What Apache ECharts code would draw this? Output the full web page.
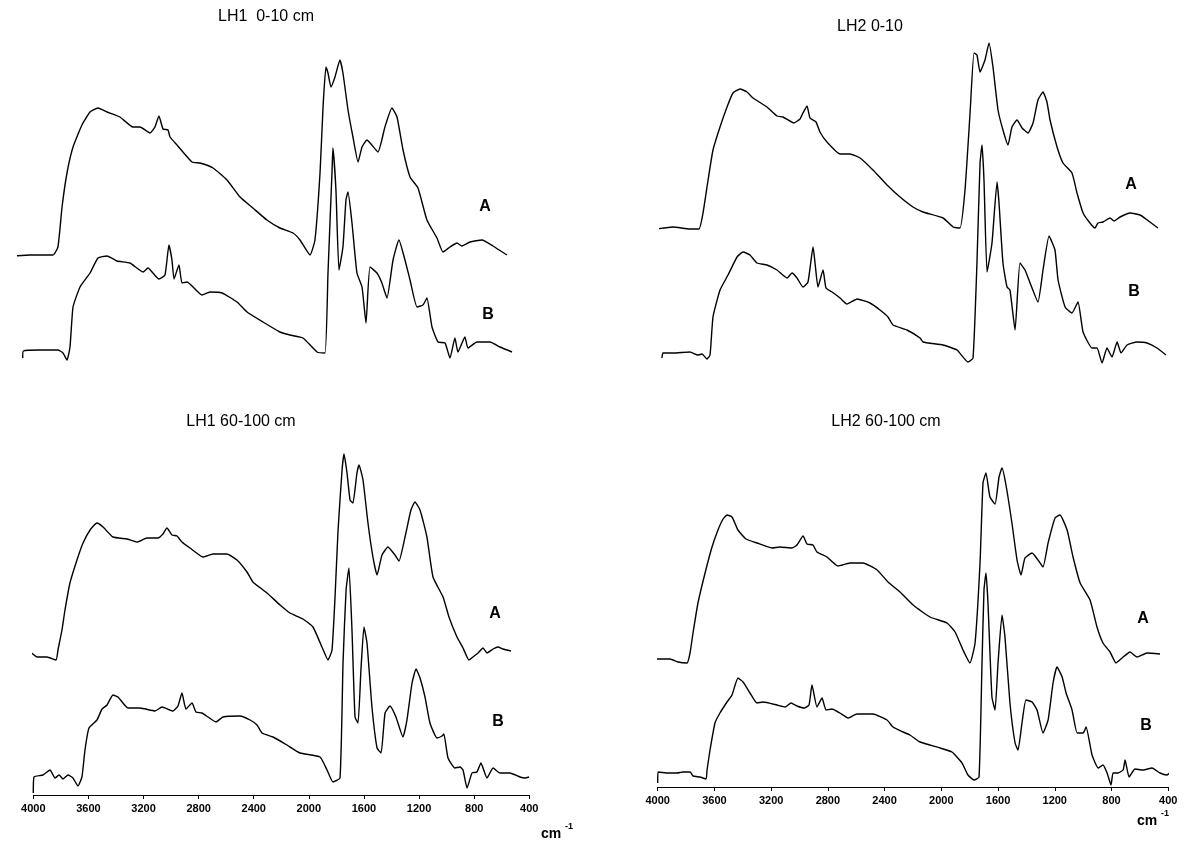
<!DOCTYPE html>
<html>
<head>
<meta charset="utf-8">
<script src="https://cdn.jsdelivr.net/npm/echarts@6/dist/echarts.min.js"></script>
<style>
html,body{margin:0;padding:0;background:#fff;}
#chart{width:1188px;height:843px;}
</style>
</head>
<body>
<div id="chart"></div>
<script>
// Wavenumber tick labels (cm-1)
const xTicks = [4000, 3600, 3200, 2800, 2400, 2000, 1600, 1200, 800, 400];

// Panel titles and curve labels
const panelTitles = ['LH1  0-10 cm', 'LH2 0-10', 'LH1 60-100 cm', 'LH2 60-100 cm'];
const curveNames = ['A', 'B'];

// Spectra: [wavenumber cm-1, absorbance (arbitrary units, offset)]
const LH1_0_10_A = [[4044,1.14],[3913,1.15],[3745,1.15],[3709,1.23],[3679,1.63],[3643,1.97],[3599,2.23],[3534,2.45],[3475,2.58],[3417,2.62],[3351,2.58],[3257,2.53],[3162,2.43],[3111,2.43],[3038,2.37],[3002,2.43],[2973,2.54],[2943,2.41],[2907,2.40],[2892,2.33],[2841,2.25],[2732,2.08],[2674,2.07],[2579,2.02],[2477,1.90],[2382,1.73],[2288,1.62],[2186,1.50],[2091,1.42],[1996,1.37],[1945,1.30],[1872,1.15],[1836,1.30],[1799,1.97],[1777,2.63],[1756,3.03],[1741,2.97],[1719,2.83],[1690,2.93],[1654,3.10],[1632,2.97],[1595,2.60],[1559,2.33],[1522,2.08],[1493,2.23],[1457,2.30],[1377,2.18],[1326,2.43],[1275,2.62],[1238,2.53],[1194,2.20],[1143,1.93],[1085,1.82],[1020,1.50],[947,1.32],[903,1.18],[852,1.23],[801,1.27],[765,1.24],[706,1.28],[619,1.30],[539,1.24],[437,1.15]];
const LH1_0_10_B = [[3966,0.12],[3961,0.19],[3840,0.20],[3709,0.20],[3672,0.17],[3643,0.10],[3621,0.23],[3599,0.63],[3548,0.83],[3475,0.97],[3417,1.12],[3351,1.14],[3279,1.09],[3184,1.07],[3089,0.98],[3053,1.02],[2973,0.91],[2929,0.95],[2900,1.25],[2878,1.10],[2863,0.91],[2827,1.05],[2805,0.87],[2768,0.88],[2659,0.75],[2601,0.78],[2513,0.77],[2404,0.68],[2331,0.58],[2215,0.48],[2091,0.38],[2018,0.35],[1923,0.32],[1821,0.18],[1763,0.17],[1741,0.97],[1712,1.97],[1705,2.22],[1683,1.80],[1661,1.00],[1632,1.23],[1610,1.70],[1595,1.78],[1566,1.47],[1530,0.97],[1493,0.83],[1464,0.47],[1435,1.03],[1384,0.97],[1348,0.87],[1311,0.72],[1267,1.10],[1224,1.30],[1180,1.10],[1143,0.90],[1092,0.63],[1049,0.65],[1020,0.72],[983,0.43],[939,0.28],[888,0.27],[852,0.12],[816,0.32],[794,0.18],[743,0.33],[721,0.22],[655,0.28],[561,0.28],[488,0.23],[400,0.18]];
const LH2_0_10_A = [[4028,1.41],[3908,1.43],[3787,1.41],[3723,1.41],[3694,1.57],[3658,1.90],[3623,2.20],[3573,2.43],[3523,2.63],[3481,2.77],[3431,2.81],[3381,2.78],[3338,2.72],[3239,2.63],[3168,2.54],[3125,2.53],[3047,2.47],[3004,2.51],[2983,2.57],[2954,2.64],[2933,2.52],[2890,2.48],[2862,2.38],[2812,2.28],[2719,2.16],[2648,2.16],[2577,2.12],[2485,2.00],[2385,1.85],[2292,1.73],[2200,1.63],[2129,1.58],[1986,1.52],[1915,1.43],[1866,1.42],[1830,1.80],[1794,2.57],[1766,3.17],[1745,3.15],[1723,2.98],[1688,3.10],[1659,3.27],[1631,3.03],[1595,2.60],[1560,2.40],[1524,2.25],[1496,2.43],[1460,2.50],[1424,2.42],[1382,2.37],[1346,2.47],[1311,2.70],[1275,2.78],[1247,2.68],[1225,2.50],[1175,2.23],[1133,2.07],[1069,1.97],[1033,1.77],[990,1.57],[941,1.47],[905,1.42],[884,1.47],[848,1.48],[798,1.52],[770,1.49],[727,1.53],[656,1.57],[585,1.55],[514,1.48],[457,1.42]];
const LH2_0_10_B = [[3986,0.12],[3979,0.17],[3908,0.17],[3787,0.18],[3730,0.15],[3701,0.16],[3666,0.11],[3644,0.15],[3623,0.53],[3573,0.80],[3516,0.95],[3452,1.13],[3409,1.18],[3360,1.15],[3310,1.07],[3239,1.05],[3168,1.00],[3096,0.92],[3061,0.97],[3025,0.92],[2983,0.83],[2947,0.88],[2911,1.23],[2897,1.07],[2876,0.83],[2840,1.00],[2819,0.82],[2776,0.78],[2719,0.72],[2670,0.66],[2598,0.71],[2506,0.67],[2435,0.60],[2378,0.53],[2342,0.45],[2243,0.40],[2150,0.32],[2129,0.28],[1986,0.25],[1887,0.20],[1809,0.08],[1773,0.12],[1745,1.07],[1723,2.07],[1709,2.25],[1695,1.90],[1673,0.98],[1638,1.27],[1602,1.88],[1588,1.67],[1560,1.07],[1531,0.83],[1510,0.80],[1474,0.40],[1439,1.07],[1403,1.00],[1367,0.87],[1311,0.68],[1275,1.00],[1232,1.34],[1190,1.20],[1168,0.90],[1118,0.63],[1069,0.57],[1026,0.68],[990,0.38],[926,0.22],[891,0.22],[855,0.07],[820,0.22],[784,0.13],[748,0.28],[720,0.17],[677,0.25],[606,0.28],[535,0.27],[464,0.22],[400,0.15]];
const LH1_60_100_A = [[4176,1.37],[4097,1.41],[4024,1.44],[3973,1.39],[3901,1.39],[3835,1.36],[3821,1.46],[3792,1.66],[3770,1.86],[3734,2.13],[3683,2.36],[3639,2.53],[3588,2.66],[3538,2.73],[3494,2.69],[3422,2.59],[3320,2.57],[3247,2.54],[3175,2.58],[3095,2.58],[3059,2.62],[3030,2.68],[2993,2.61],[2957,2.60],[2921,2.54],[2863,2.48],[2768,2.39],[2696,2.42],[2594,2.42],[2522,2.36],[2449,2.24],[2406,2.14],[2304,2.03],[2209,1.91],[2137,1.83],[2043,1.77],[1970,1.69],[1905,1.49],[1861,1.36],[1832,1.46],[1810,1.99],[1788,2.66],[1759,3.26],[1745,3.42],[1723,3.23],[1701,2.96],[1680,2.93],[1651,3.23],[1636,3.31],[1607,3.16],[1571,2.73],[1535,2.39],[1505,2.21],[1469,2.41],[1426,2.49],[1375,2.41],[1346,2.35],[1302,2.59],[1259,2.86],[1230,2.94],[1193,2.86],[1143,2.59],[1099,2.19],[1026,1.99],[983,1.79],[925,1.59],[881,1.48],[838,1.36],[809,1.39],[772,1.43],[736,1.48],[707,1.43],[663,1.47],[627,1.49],[591,1.47],[533,1.45]];
const LH1_60_100_B = [[4000,0.03],[3995,0.19],[3930,0.21],[3879,0.26],[3842,0.18],[3813,0.21],[3784,0.17],[3748,0.21],[3712,0.18],[3676,0.10],[3647,0.19],[3625,0.46],[3596,0.68],[3538,0.76],[3501,0.87],[3465,0.91],[3422,1.01],[3385,0.99],[3313,0.88],[3226,0.88],[3117,0.85],[3066,0.89],[2986,0.85],[2950,0.90],[2921,1.03],[2892,0.87],[2848,0.93],[2819,0.84],[2776,0.83],[2732,0.79],[2674,0.74],[2623,0.79],[2500,0.80],[2427,0.76],[2376,0.71],[2340,0.63],[2260,0.59],[2159,0.51],[2064,0.43],[1919,0.39],[1868,0.26],[1825,0.14],[1774,0.18],[1752,1.33],[1730,2.06],[1709,2.28],[1687,1.66],[1665,0.79],[1643,0.73],[1622,1.26],[1600,1.69],[1578,1.53],[1542,0.89],[1505,0.48],[1476,0.43],[1447,0.83],[1411,0.90],[1368,0.79],[1317,0.59],[1288,0.76],[1251,1.13],[1222,1.27],[1193,1.18],[1157,0.99],[1121,0.73],[1070,0.58],[1034,0.60],[1020,0.62],[990,0.38],[940,0.28],[903,0.29],[881,0.26],[852,0.08],[816,0.23],[780,0.24],[751,0.33],[707,0.18],[663,0.28],[613,0.23],[540,0.23],[468,0.19],[431,0.18],[402,0.19]];
const LH2_60_100_A = [[4132,1.27],[4054,1.29],[3984,1.29],[3913,1.29],[3857,1.26],[3793,1.25],[3772,1.35],[3751,1.55],[3716,1.85],[3666,2.15],[3617,2.41],[3575,2.58],[3539,2.69],[3511,2.73],[3476,2.71],[3434,2.58],[3377,2.49],[3300,2.45],[3194,2.40],[3138,2.41],[3053,2.40],[3018,2.43],[2975,2.52],[2947,2.44],[2905,2.43],[2877,2.36],[2806,2.31],[2729,2.22],[2644,2.25],[2552,2.25],[2453,2.18],[2376,2.06],[2291,1.96],[2199,1.83],[2080,1.71],[1960,1.65],[1903,1.56],[1847,1.38],[1798,1.25],[1762,1.45],[1727,2.25],[1706,3.05],[1685,3.15],[1657,2.91],[1621,2.84],[1593,3.11],[1572,3.20],[1544,3.03],[1502,2.65],[1466,2.28],[1438,2.13],[1410,2.30],[1360,2.35],[1318,2.28],[1283,2.21],[1247,2.45],[1198,2.70],[1163,2.73],[1113,2.58],[1071,2.31],[1021,2.05],[951,1.88],[902,1.61],[860,1.45],[810,1.36],[768,1.25],[725,1.30],[669,1.36],[620,1.31],[549,1.35],[458,1.34]];
const LH2_60_100_B = [[4000,0.05],[3998,0.16],[3934,0.15],[3864,0.15],[3822,0.16],[3772,0.16],[3751,0.12],[3702,0.11],[3659,0.09],[3652,0.18],[3631,0.38],[3596,0.65],[3561,0.75],[3511,0.86],[3476,0.93],[3434,1.10],[3398,1.06],[3349,0.95],[3300,0.85],[3257,0.86],[3159,0.83],[3102,0.81],[3060,0.85],[3018,0.82],[2968,0.80],[2933,0.83],[2912,1.03],[2877,0.81],[2841,0.90],[2813,0.78],[2771,0.79],[2715,0.75],[2658,0.70],[2595,0.74],[2482,0.74],[2383,0.68],[2341,0.61],[2270,0.56],[2221,0.53],[2150,0.46],[2009,0.40],[1925,0.36],[1854,0.25],[1812,0.13],[1769,0.08],[1734,0.11],[1713,1.25],[1699,1.98],[1685,2.15],[1671,1.85],[1643,0.91],[1621,0.78],[1600,1.25],[1572,1.73],[1551,1.51],[1516,0.85],[1480,0.45],[1459,0.38],[1431,0.65],[1403,0.88],[1360,0.86],[1325,0.78],[1283,0.55],[1247,0.68],[1212,1.05],[1184,1.21],[1148,1.11],[1120,0.95],[1078,0.78],[1042,0.55],[1000,0.55],[979,0.61],[937,0.33],[894,0.20],[860,0.23],[831,0.15],[803,0.03],[789,0.15],[754,0.15],[718,0.18],[704,0.28],[676,0.11],[634,0.19],[578,0.18],[514,0.20],[458,0.15],[409,0.13],[388,0.15],[353,0.16]];

const panels = [
  {title: panelTitles[0], A: LH1_0_10_A, B: LH1_0_10_B},
  {title: panelTitles[1], A: LH2_0_10_A, B: LH2_0_10_B},
  {title: panelTitles[2], A: LH1_60_100_A, B: LH1_60_100_B},
  {title: panelTitles[3], A: LH2_60_100_A, B: LH2_60_100_B}
];

// Layout (pixels)
const layout = [
  {grid: {left: 18, top: 30, width: 494, height: 340}, yMin: 0, yMax: 3.4, axis: false,
   titlePos: [266, 17], labA: [485, 207], labB: [488, 315]},
  {grid: {left: 660, top: 30, width: 506, height: 340}, yMin: 0, yMax: 3.4, axis: false,
   titlePos: [870, 27], labA: [1131, 185], labB: [1134, 292]},
  {grid: {left: 33.3, top: 430, width: 496, height: 365}, yMin: 0.01, yMax: 3.66, axis: true,
   titlePos: [241, 422], labA: [495, 614], labB: [498, 722], cm: [541, 834]},
  {grid: {left: 657.7, top: 430, width: 510.5, height: 357}, yMin: 0.01, yMax: 3.58, axis: true,
   titlePos: [886, 422], labA: [1143, 619], labB: [1146, 726], cm: [1137, 821]}
];

const FONT = '"Liberation Sans", Arial, Helvetica, sans-serif';
const grids = [], xAxes = [], yAxes = [], series = [], graphics = [];

layout.forEach((L, i) => {
  grids.push(Object.assign({containLabel: false}, L.grid));
  xAxes.push({
    type: 'value', gridIndex: i, inverse: true,
    min: Math.min(...xTicks), max: Math.max(...xTicks), interval: xTicks[0] - xTicks[1],
    show: L.axis,
    axisLine: {show: true, onZero: false, lineStyle: {color: '#000', width: 1}},
    axisTick: {show: true, length: 4, lineStyle: {color: '#000', width: 1}},
    axisLabel: {show: true, color: '#000', fontSize: 11, fontWeight: 'bold', fontFamily: FONT, margin: 8,
      showMinLabel: true, showMaxLabel: true, formatter: v => String(v)},
    splitLine: {show: false}
  });
  yAxes.push({type: 'value', gridIndex: i, min: L.yMin, max: L.yMax, show: false, splitLine: {show: false}});
  ['A', 'B'].forEach(k => {
    series.push({
      type: 'line', name: panels[i].title + ' ' + k,
      xAxisIndex: i, yAxisIndex: i,
      data: panels[i][k], showSymbol: false, symbol: 'none', clip: false,
      smooth: 0.15, animation: false,
      lineStyle: {color: '#000', width: 1.4}
    });
  });
  graphics.push({type: 'text', x: L.titlePos[0], y: L.titlePos[1],
    style: {text: panels[i].title, fill: '#000', font: 'normal 16px ' + FONT, textAlign: 'center', textVerticalAlign: 'middle'}});
  graphics.push({type: 'text', x: L.labA[0], y: L.labA[1],
    style: {text: curveNames[0], fill: '#000', font: 'bold 16px ' + FONT, textAlign: 'center', textVerticalAlign: 'middle'}});
  graphics.push({type: 'text', x: L.labB[0], y: L.labB[1],
    style: {text: curveNames[1], fill: '#000', font: 'bold 16px ' + FONT, textAlign: 'center', textVerticalAlign: 'middle'}});
  if (L.cm) {
    graphics.push({type: 'text', x: L.cm[0], y: L.cm[1],
      style: {text: 'cm', fill: '#000', font: 'bold 14px ' + FONT, textAlign: 'left', textVerticalAlign: 'middle'}});
    graphics.push({type: 'text', x: L.cm[0] + 24, y: L.cm[1] - 7,
      style: {text: '-1', fill: '#000', font: 'bold 9px ' + FONT, textAlign: 'left', textVerticalAlign: 'middle'}});
  }
});

const chart = echarts.init(document.getElementById('chart'), null, {renderer: 'canvas'});
chart.setOption({
  backgroundColor: '#fff',
  animation: false,
  grid: grids, xAxis: xAxes, yAxis: yAxes, series: series,
  graphic: graphics
});
</script>
</body>
</html>
